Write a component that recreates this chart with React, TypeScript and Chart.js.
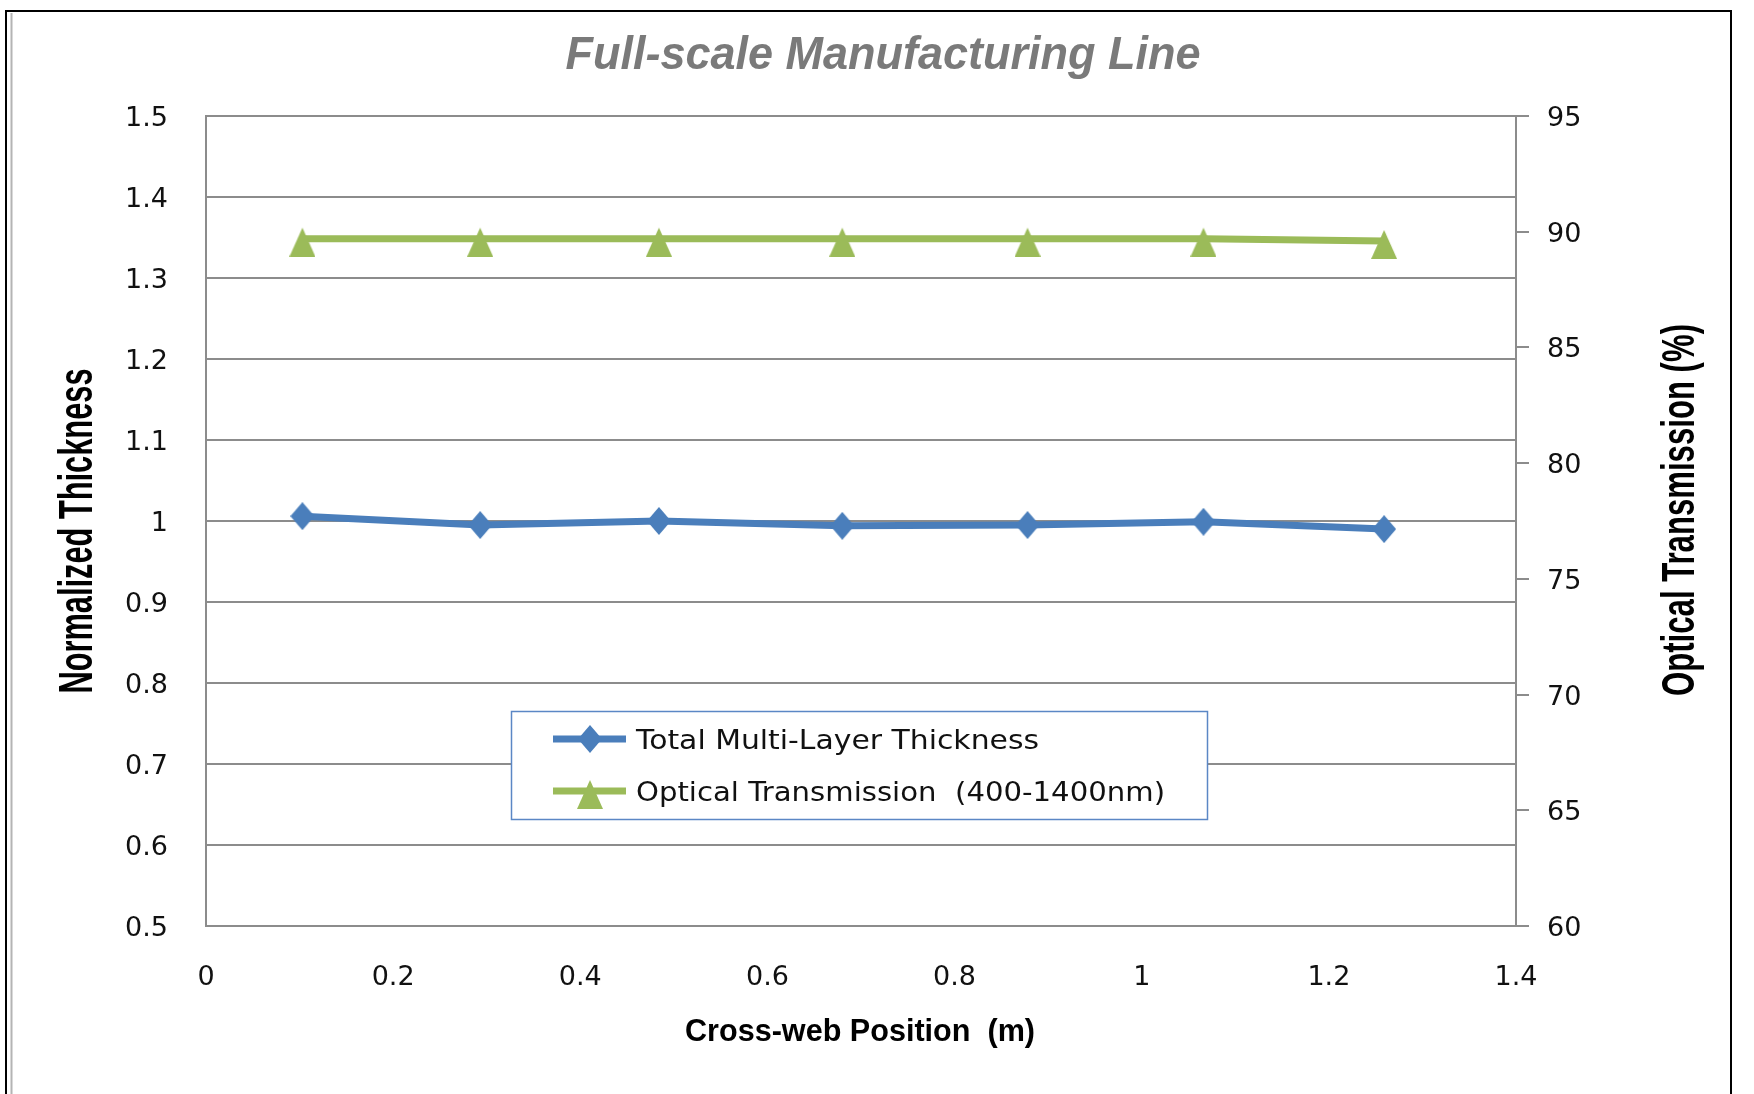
import React, { useEffect, useRef } from "react";
import { Chart, registerables } from "chart.js";

Chart.register(...registerables);

// ---- data ----
const positions = [0.103, 0.293, 0.484, 0.68, 0.878, 1.066, 1.259];
const thickness = [1.006, 0.995, 1.0, 0.994, 0.995, 0.999, 0.99];
const transmission = [89.7, 89.7, 89.7, 89.7, 89.7, 89.7, 89.6];
const seriesNames = ["Total Multi-Layer Thickness", "Optical Transmission  (400-1400nm)"];
const chartTitle = "Full-scale Manufacturing Line";
const xTitle = "Cross-web Position  (m)";
const yTitle = "Normalized Thickness";
const y2Title = "Optical Transmission (%)";
const xTicks = [0, 0.2, 0.4, 0.6, 0.8, 1, 1.2, 1.4];
const yTicks = [0.5, 0.6, 0.7, 0.8, 0.9, 1, 1.1, 1.2, 1.3, 1.4, 1.5];
const y2Ticks = [60, 65, 70, 75, 80, 85, 90, 95];

const BLUE = "#4a7ebb";
const GREEN = "#9bbb59";
const GRID = "#8c8c8c";
const TICK_COLOR = "#111111";
const TICK_FONT = { family: "'DejaVu Sans', Verdana, sans-serif", size: 27 };

const fmt = (v: number | string) => String(Math.round(Number(v) * 10) / 10);

function makeDiamond(color: string) {
  const c = document.createElement("canvas");
  c.width = 24;
  c.height = 28;
  const g = c.getContext("2d")!;
  g.fillStyle = color;
  g.beginPath();
  g.moveTo(12, 0);
  g.lineTo(24, 14);
  g.lineTo(12, 28);
  g.lineTo(0, 14);
  g.closePath();
  g.fill();
  return c;
}

function makeTriangle(color: string) {
  const c = document.createElement("canvas");
  c.width = 26;
  c.height = 36;
  const g = c.getContext("2d")!;
  g.fillStyle = color;
  g.beginPath();
  g.moveTo(13, 7);
  g.lineTo(26, 36);
  g.lineTo(0, 36);
  g.closePath();
  g.fill();
  return c;
}

function drawFitted(
  ctx: CanvasRenderingContext2D,
  text: string,
  x: number,
  y: number,
  font: string,
  width: number,
  color: string,
  align: CanvasTextAlign = "center",
  rot = 0
) {
  ctx.save();
  ctx.font = font;
  ctx.fillStyle = color;
  ctx.textAlign = align;
  ctx.textBaseline = "alphabetic";
  const w = ctx.measureText(text).width;
  ctx.translate(x, y);
  if (rot) ctx.rotate(rot);
  ctx.scale(width / w, 1);
  ctx.fillText(text, 0, 0);
  ctx.restore();
}

export default function App() {
  const ref = useRef<HTMLCanvasElement | null>(null);

  useEffect(() => {
    if (!ref.current) return;
    const diamond = makeDiamond(BLUE);
    const triangle = makeTriangle(GREEN);

    const framePlugin = {
      id: "frame",
      beforeDraw(chart: any) {
        const ctx = chart.ctx as CanvasRenderingContext2D;
        ctx.save();
        ctx.fillStyle = "#ffffff";
        ctx.fillRect(0, 0, chart.width, chart.height);
        ctx.strokeStyle = "#000000";
        ctx.lineWidth = 2;
        ctx.beginPath();
        ctx.moveTo(6, chart.height);
        ctx.lineTo(6, 11);
        ctx.lineTo(1731, 11);
        ctx.lineTo(1731, chart.height);
        ctx.stroke();
        ctx.strokeStyle = "#b4b4b4";
        ctx.beginPath();
        ctx.moveTo(11.5, 13);
        ctx.lineTo(11.5, chart.height);
        ctx.stroke();
        ctx.restore();
      },
    };

    const textPlugin = {
      id: "texts",
      afterDraw(chart: any) {
        const ctx = chart.ctx as CanvasRenderingContext2D;
        drawFitted(ctx, chartTitle, 883, 69, "italic bold 46px 'Liberation Sans', Arial, sans-serif", 635, "#7a7a7a");
        drawFitted(ctx, xTitle, 860, 1041, "bold 31px 'Liberation Sans', Arial, sans-serif", 350, "#000000");
        drawFitted(ctx, yTitle, 92, 531, "bold 48px 'Liberation Sans', Arial, sans-serif", 325, "#000000", "center", -Math.PI / 2);
        drawFitted(ctx, y2Title, 1694, 510, "bold 46px 'Liberation Sans', Arial, sans-serif", 372, "#000000", "center", -Math.PI / 2);

        // legend
        const ds = chart.data.datasets;
        ctx.save();
        ctx.fillStyle = "#ffffff";
        ctx.fillRect(511, 711, 696, 108);
        ctx.strokeStyle = "#5b87c5";
        ctx.lineWidth = 1.5;
        ctx.strokeRect(511.5, 711.5, 696, 108);
        const rows = [739, 791];
        const widths = [403, 529];
        ds.forEach((d: any, i: number) => {
          const y = rows[i];
          ctx.strokeStyle = d.borderColor;
          ctx.lineWidth = 7;
          ctx.beginPath();
          ctx.moveTo(553, y);
          ctx.lineTo(626, y);
          ctx.stroke();
          const img = d.pointStyle as HTMLCanvasElement;
          ctx.drawImage(img, 590 - img.width / 2, y - img.height / 2);
          drawFitted(ctx, d.label, 636, y + 10, "27px 'DejaVu Sans', Verdana, sans-serif", widths[i], "#111111", "left");
        });
        ctx.restore();
      },
    };

    const chart = new Chart(ref.current, {
      type: "line",
      data: {
        datasets: [
          {
            label: seriesNames[0],
            data: positions.map((x, i) => ({ x, y: thickness[i] })),
            borderColor: BLUE,
            backgroundColor: BLUE,
            borderWidth: 7,
            pointStyle: diamond as any,
            pointRadius: 12,
            yAxisID: "y",
            tension: 0,
          },
          {
            label: seriesNames[1],
            data: positions.map((x, i) => ({ x, y: transmission[i] })),
            borderColor: GREEN,
            backgroundColor: GREEN,
            borderWidth: 7,
            pointStyle: triangle as any,
            pointRadius: 12,
            yAxisID: "y1",
            tension: 0,
          },
        ],
      },
      options: {
        responsive: false,
        animation: false,
        devicePixelRatio: 1,
        layout: { padding: { top: 116, left: 0, right: 0, bottom: 0 } },
        plugins: {
          legend: { display: false },
          title: { display: false },
          tooltip: { enabled: false },
        },
        scales: {
          x: {
            type: "linear",
            position: "bottom",
            min: xTicks[0],
            max: xTicks[xTicks.length - 1],
            afterBuildTicks: (s: any) => {
              s.ticks = xTicks.map((v) => ({ value: v }));
            },
            afterFit: (s: any) => {
              s.height = 168;
            },
            grid: { display: false, drawTicks: false },
            border: { display: true, color: GRID, width: 2 },
            ticks: { padding: 36, font: TICK_FONT, color: TICK_COLOR, callback: fmt, maxRotation: 0, autoSkip: false },
          },
          y: {
            type: "linear",
            position: "left",
            min: yTicks[0],
            max: yTicks[yTicks.length - 1],
            afterBuildTicks: (s: any) => {
              s.ticks = yTicks.map((v) => ({ value: v }));
            },
            afterFit: (s: any) => {
              s.width = 206;
            },
            grid: { color: GRID, lineWidth: 2, drawTicks: false },
            border: { display: true, color: GRID, width: 2 },
            ticks: { padding: 38, labelOffset: 3, font: TICK_FONT, color: TICK_COLOR, callback: fmt, autoSkip: false },
          },
          y1: {
            type: "linear",
            position: "right",
            min: y2Ticks[0],
            max: y2Ticks[y2Ticks.length - 1],
            afterBuildTicks: (s: any) => {
              s.ticks = y2Ticks.map((v) => ({ value: v }));
            },
            afterFit: (s: any) => {
              s.width = 238;
            },
            grid: { drawOnChartArea: false, drawTicks: true, tickLength: 13, color: GRID, lineWidth: 2 },
            border: { display: true, color: GRID, width: 2 },
            ticks: { padding: 18, labelOffset: 3, font: TICK_FONT, color: TICK_COLOR, callback: fmt, autoSkip: false },
          },
        },
      },
      plugins: [framePlugin, textPlugin],
    } as any);

    return () => chart.destroy();
  }, []);

  return (
    <div style={{ position: "absolute", left: 0, top: 0, width: 1754, height: 1094, overflow: "hidden" }}>
      <canvas ref={ref} width={1754} height={1094} style={{ display: "block", width: 1754, height: 1094 }} />
    </div>
  );
}
